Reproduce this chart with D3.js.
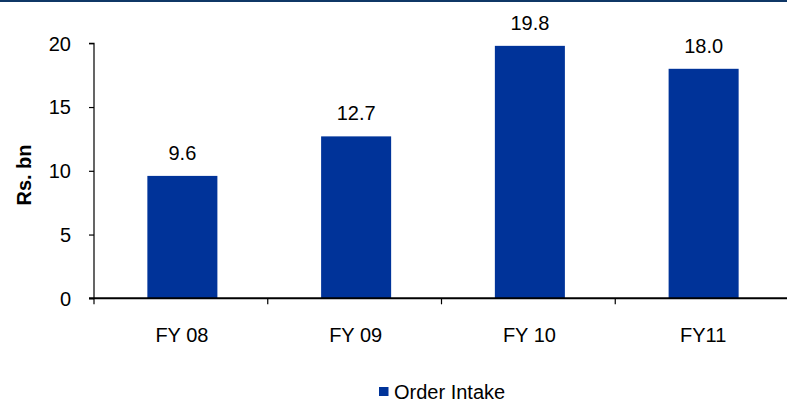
<!DOCTYPE html>
<html>
<head>
<meta charset="utf-8">
<script src="https://cdn.jsdelivr.net/npm/d3@7"></script>
<style>
  html, body { margin: 0; padding: 0; background: #fff; }
  svg { display: block; font-family: "Liberation Sans", Arial, sans-serif; }
</style>
</head>
<body>
<svg id="chart" width="787" height="402"></svg>
<script>
// Order intake by fiscal year (Rs. bn)
const categories = ["FY 08", "FY 09", "FY 10", "FY11"];
const orderIntake = [9.6, 12.7, 19.8, 18.0];
const valueLabels = ["9.6", "12.7", "19.8", "18.0"];
const yTicks = [0, 5, 10, 15, 20];
const seriesName = "Order Intake";
const yTitle = "Rs. bn";

const svg = d3.select("#chart");
const W = 787, H = 402;

// top rule
svg.append("rect").attr("x", 0).attr("y", 0).attr("width", W).attr("height", 2)
  .attr("fill", "#0f3766");

const plotLeft = 94, plotRight = 789, plotTop = 43.3, plotBottom = 298.3;

const x = d3.scaleBand().domain(categories).range([plotLeft, plotRight])
  .paddingInner(0.597).paddingOuter(0.2985);
const y = d3.scaleLinear().domain([0, 20]).range([plotBottom, plotTop]);

// bars
svg.append("g").selectAll("rect").data(orderIntake).join("rect")
  .attr("x", (d, i) => x(categories[i]) + 1.5)
  .attr("y", d => y(d))
  .attr("width", x.bandwidth())
  .attr("height", d => y(0) - y(d))
  .attr("fill", "#003399");

// value labels
svg.append("g").selectAll("text").data(orderIntake).join("text")
  .attr("x", (d, i) => x(categories[i]) + 1.5 + x.bandwidth() / 2)
  .attr("y", d => y(d) - 16)
  .attr("text-anchor", "middle")
  .attr("font-size", 20)
  .attr("fill", "#000")
  .text((d, i) => valueLabels[i]);

// y axis
const yAxis = svg.append("g").attr("transform", `translate(${plotLeft},0)`)
  .call(d3.axisLeft(y).tickValues(yTicks).tickSize(5).tickPadding(18).tickFormat(d3.format("d")));
yAxis.select(".domain").attr("stroke", "#000").attr("stroke-width", 1.2)
  .attr("d", `M-5,${plotTop}H0V${plotBottom}`);
yAxis.selectAll(".tick line").attr("stroke", "#000").attr("stroke-width", 1.2);
yAxis.selectAll(".tick text").attr("font-size", 20).attr("fill", "#000")
  .attr("font-family", "'Liberation Sans', Arial, sans-serif").attr("dy", "0.34em");

// x axis: baseline with ticks at category boundaries
const xg = svg.append("g").attr("transform", `translate(0,${plotBottom})`);
xg.append("line").attr("x1", plotLeft - 5).attr("x2", W).attr("y1", 0).attr("y2", 0)
  .attr("stroke", "#000").attr("stroke-width", 2);
const step = x.step();
const bounds = d3.range(categories.length + 1).map(i => plotLeft + i * step);
xg.selectAll("line.b").data(bounds).join("line").attr("class", "b")
  .attr("x1", d => d).attr("x2", d => d).attr("y1", 0).attr("y2", 6)
  .attr("stroke", "#000").attr("stroke-width", 1.2);
xg.selectAll("text").data(categories).join("text")
  .attr("x", d => x(d) + x.bandwidth() / 2 + 1)
  .attr("y", 43.3)
  .attr("text-anchor", "middle")
  .attr("font-size", 20)
  .attr("fill", "#000")
  .text(d => d);

// y axis title
svg.append("text")
  .attr("transform", `translate(31,175) rotate(-90)`)
  .attr("text-anchor", "middle")
  .attr("font-size", 20)
  .attr("font-weight", "bold")
  .attr("fill", "#000")
  .text(yTitle);

// legend
const lg = svg.append("g");
lg.append("rect").attr("x", 379).attr("y", 387).attr("width", 9.5).attr("height", 9)
  .attr("fill", "#003399");
lg.append("text").attr("x", 394).attr("y", 398.5)
  .attr("font-size", 20).attr("fill", "#000").text(seriesName);
</script>
</body>
</html>
